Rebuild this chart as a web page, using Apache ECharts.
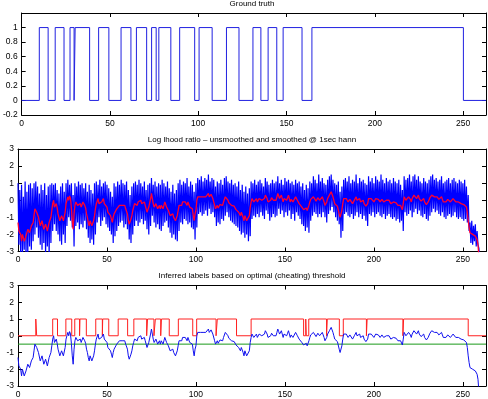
<!DOCTYPE html>
<html><head><meta charset="utf-8">
<script src="https://cdn.jsdelivr.net/npm/echarts@6/dist/echarts.min.js"></script>
<style>html,body{margin:0;padding:0;background:#fff}#c{width:488px;height:399px}</style>
</head><body><div id="c"></div>
<script>
const xMax = 263;
const xTicks = [0, 50, 100, 150, 200, 250];
const titles = ["Ground truth", "Log lhood ratio \u2013 unsmoothed and smoothed @ 1sec hann", "Inferred labels based on optimal (cheating) threshold"];
// ground truth high intervals (seconds)
const gtStart = [10.0,19.0,27.4,30.3,43.6,56.3,65.0,73.6,77.7,89.5,100.5,116.0,131.0,139.6,148.1,164.4];
const gtEnd   = [15.0,24.0,29.7,38.5,49.4,61.9,70.8,76.2,84.5,98.0,107.9,123.1,135.5,144.5,158.8,250.2];
// inferred label high intervals
const labStart = [10.0,19.5,26.9,31.9,34.8,43.7,47.6,56.3,65.1,72.8,77.2,80.6,90.1,100.4,112.0,131.0,161.7,163.4,173.8,182.8,196.2,216.7];
const labEnd   = [10.5,22.2,30.2,34.6,38.4,47.4,51.0,61.6,72.3,76.4,80.2,85.0,98.2,111.3,122.8,160.5,162.0,173.4,180.6,195.8,216.3,253.0];
const threshold = -0.5;
// smoothed log likelihood ratio at whole seconds
const smooth = [
-1.3,-1.9,-2.4,-2.0,-2.5,-2.1,-1.6,-1.9,-1.4,-0.9,
-0.4,-0.7,-1.1,-1.6,-1.3,-1.8,-1.5,-1.7,-1.2,-0.6,
0.0,-0.3,-0.45,-0.9,-1.3,-0.8,-1.1,-0.2,0.2,0.25,
-0.45,-1.7,-0.3,-0.1,-0.4,-0.2,-0.3,-0.1,-0.45,-1.0,
-1.5,-1.2,-1.6,-0.9,-0.2,0.1,-0.3,-0.1,0.1,-0.2,
-0.4,-0.6,-0.9,-1.3,-0.8,-0.7,-0.4,-0.3,-0.2,-0.35,
-0.3,-0.45,-1.2,-1.4,-0.9,-0.4,-0.1,-0.3,-0.2,0.0,
-0.2,-0.1,-0.4,-0.6,-0.3,0.4,-0.2,-0.4,-0.3,-0.45,
-0.5,-0.4,-0.3,-0.2,-0.45,-0.7,-1.0,-0.8,-1.1,-1.3,
-0.6,-0.2,-0.3,0.0,-0.1,-0.3,-0.2,-0.4,-0.5,-1.2,
-0.6,0.2,0.3,0.1,0.2,0.3,0.1,0.4,0.2,0.3,
0.0,-0.5,-0.3,-0.4,-0.2,-0.3,0.0,0.3,0.0,-0.2,
-0.3,-0.3,-0.45,-0.6,-0.7,-0.9,-0.8,-1.2,-1.0,-1.3,
-0.9,-0.1,0.0,-0.2,0.1,-0.1,0.2,0.0,-0.1,0.3,
0.1,-0.2,0.0,0.1,-0.1,0.0,0.4,0.1,0.3,-0.1,
0.2,0.0,0.3,-0.1,0.1,-0.2,0.2,0.0,-0.2,-0.3,
-0.45,-0.6,-0.45,-0.55,-0.1,0.0,0.2,0.1,0.0,0.1,
-0.1,0.2,-0.1,-0.4,0.1,0.3,0.5,0.2,-0.2,-0.3,
-0.4,-1.0,-0.6,0.1,0.2,0.0,-0.1,0.1,-0.2,0.0,
0.2,-0.1,0.1,-0.2,0.0,-0.3,-0.45,0.1,0.0,0.2,
-0.1,0.1,0.2,0.0,-0.1,0.1,-0.2,0.0,0.1,-0.1,
-0.2,-0.1,-0.2,-0.2,-0.3,-0.3,-0.55,0.2,0.0,0.1,
0.3,-0.1,0.2,0.4,0.1,0.3,0.0,-0.1,0.1,-0.2,
-0.3,0.0,0.2,0.4,0.2,0.3,0.1,0.0,0.2,-0.1,
-0.2,0.0,0.1,-0.1,0.0,0.2,-0.1,-0.2,-0.1,-0.2,
-0.3,-0.2,-0.4,-1.2,-1.9,-1.95,-1.95,-2.1,-2.3,-3.3];
// smoothed log likelihood ratio at half seconds (i + 0.5)
const smoothHalf = [
-1.8,-2.0,-2.0,-2.4,-2.1,-1.7,-1.9,-1.5,-1.3,-0.5,
-0.7,-1.0,-1.5,-1.2,-1.7,-1.4,-1.8,-1.3,-1.0,-0.2,
-0.4,-0.2,-0.8,-1.2,-0.9,-1.2,-0.7,0.0,0.0,0.1,
-1.2,-0.8,-0.1,-0.3,-0.3,-0.4,-0.1,-0.3,-0.8,-1.3,
-1.2,-1.5,-1.2,-0.5,-0.1,-0.2,-0.1,0.0,-0.2,-0.3,
-0.7,-0.7,-1.1,-1.0,-0.9,-0.5,-0.5,-0.2,-0.3,-0.2,
-0.5,-0.8,-1.4,-1.1,-0.6,-0.2,-0.2,-0.1,-0.1,-0.2,
-0.1,-0.3,-0.7,-0.4,0.1,0.1,-0.4,-0.2,-0.5,-0.3,
-0.3,-0.5,-0.1,-0.4,-0.6,-0.9,-0.8,-1.0,-1.2,-0.9,
-0.3,-0.35,-0.1,-0.2,-0.1,-0.1,-0.4,-0.3,-0.9,-0.8,
0.0,0.1,0.2,0.25,0.1,0.2,0.3,0.2,0.35,0.1,
-0.3,-0.4,-0.45,-0.25,-0.35,-0.1,0.2,0.1,-0.15,-0.2,
-0.4,-0.35,-0.55,-0.5,-0.8,-0.7,-1.0,-0.9,-1.2,-1.1,
-0.4,0.1,-0.1,0.0,-0.1,0.1,0.1,-0.1,0.1,0.2,
-0.1,-0.05,0.15,0.0,-0.05,0.2,0.25,0.2,0.1,0.1,
0.1,0.15,0.1,0.05,-0.1,0.0,0.1,-0.1,-0.25,-0.4,
-0.55,-0.5,-0.6,-0.3,0.05,0.1,0.15,-0.05,0.15,0.0,
0.1,0.05,-0.3,-0.1,0.2,0.4,0.35,0.0,-0.3,-0.35,
-0.8,-0.9,-0.2,0.2,0.1,-0.1,0.05,0.0,-0.1,0.1,
0.0,0.05,-0.1,-0.05,-0.2,-0.35,-0.2,0.05,0.1,0.05,
0.0,0.15,0.05,-0.1,0.05,-0.1,-0.05,0.05,0.0,-0.2,
-0.1,-0.2,-0.15,-0.3,-0.2,-0.4,-0.2,0.1,0.05,0.2,
0.05,0.1,0.3,0.25,0.2,0.1,-0.05,0.05,-0.1,-0.25,
-0.1,0.15,0.3,0.3,0.25,0.2,0.05,0.1,0.05,-0.15,
-0.1,0.05,0.0,-0.05,0.1,0.05,-0.15,-0.1,-0.15,-0.25,
-0.25,-0.3,-0.7,-1.6,-1.9,-2.0,-2.0,-2.15,-2.6];
// unsmoothed ratio: peak value in first half of each second
const rawHi = [
1.0,0.6,0.9,0.2,1.1,0.5,0.9,1.0,0.7,1.0,
1.1,0.8,0.4,0.9,0.6,1.0,0.3,0.8,0.9,1.0,
0.9,1.0,0.6,0.4,0.8,1.0,0.5,1.0,1.2,0.9,
1.0,0.3,1.0,0.8,1.1,0.9,1.0,0.7,1.0,0.5,
0.9,0.6,0.4,1.0,1.1,0.9,1.2,0.8,1.0,1.1,
0.9,0.7,0.5,0.2,1.0,0.8,1.1,0.9,1.2,1.0,
0.9,1.1,0.6,0.3,0.8,1.0,1.1,0.9,1.2,1.0,
0.8,1.1,0.6,0.9,1.0,1.3,0.9,1.1,0.8,1.0,
0.9,1.2,1.0,0.8,1.1,0.7,0.5,0.9,0.4,0.6,
1.0,1.2,0.9,1.1,1.0,1.3,0.8,1.1,0.9,0.5,
1.0,1.3,1.2,1.4,1.1,1.3,1.2,1.5,1.1,1.3,
1.2,0.8,1.1,1.0,1.2,0.9,1.3,1.4,1.1,1.0,
1.2,0.9,1.0,0.8,1.1,0.6,0.9,0.5,0.8,0.4,
0.7,1.1,1.0,1.2,0.9,1.1,1.2,1.0,0.8,1.3,
1.1,0.9,1.0,1.2,1.0,1.1,1.4,1.0,1.2,0.9,
1.3,1.1,1.2,1.0,1.1,0.9,1.2,1.0,1.1,0.8,
1.0,0.6,0.9,0.7,1.1,1.0,1.4,1.2,1.0,1.5,
1.1,1.3,1.0,0.9,1.2,1.4,1.5,1.2,1.0,0.9,
1.1,0.5,0.8,1.2,1.3,1.1,1.4,1.0,1.2,1.1,
1.5,1.0,1.3,1.1,1.2,1.0,0.9,1.4,1.1,1.3,
1.0,1.4,1.2,1.1,1.5,1.2,1.0,1.3,1.1,1.2,
1.0,1.3,1.1,1.0,1.2,0.9,0.6,1.4,1.2,1.3,
1.5,1.1,1.4,1.5,1.2,1.4,1.1,1.0,1.3,1.1,
1.0,1.2,1.4,1.5,1.2,1.3,1.1,1.2,1.4,1.0,
1.1,1.2,1.3,1.0,1.2,1.3,1.1,1.0,1.2,1.1,
1.0,1.2,0.8,0.3,-1.3,-1.2,-1.5,-1.4,-1.8,-2.8];
// unsmoothed ratio: trough value in second half of each second
const rawLo = [
-2.6,-3.2,-3.4,-2.9,-3.3,-3.1,-2.7,-2.9,-2.4,-2.0,
-1.6,-2.2,-2.6,-2.9,-2.5,-3.2,-2.7,-3.3,-2.5,-1.8,
-1.4,-1.8,-2.0,-2.4,-2.6,-2.0,-2.5,-1.5,-1.0,-1.2,
-1.6,-2.7,-1.5,-1.3,-1.7,-1.4,-1.6,-1.2,-1.7,-2.2,
-2.5,-2.3,-2.6,-2.0,-1.3,-1.0,-1.5,-1.2,-1.0,-1.4,
-1.6,-1.8,-2.0,-2.5,-2.1,-1.8,-1.5,-1.3,-1.2,-1.6,
-1.4,-1.7,-2.3,-2.5,-2.0,-1.5,-1.2,-1.5,-1.3,-1.1,
-1.4,-1.2,-1.7,-2.0,-1.5,-0.9,-1.3,-1.6,-1.4,-1.7,
-1.8,-1.5,-1.3,-1.2,-1.6,-1.9,-2.2,-2.0,-2.3,-2.4,
-1.8,-1.3,-1.4,-1.1,-1.2,-1.4,-1.3,-1.6,-1.7,-2.3,
-1.6,-0.8,-0.7,-0.9,-0.8,-0.6,-0.9,-0.5,-0.8,-0.7,
-1.0,-1.5,-1.3,-1.4,-1.1,-1.2,-0.9,-0.7,-1.0,-1.2,
-1.3,-1.4,-1.5,-1.6,-1.8,-2.0,-1.9,-2.2,-2.0,-2.4,
-2.1,-1.1,-0.9,-1.0,-0.8,-1.0,-0.7,-0.9,-1.1,-0.6,
-0.8,-1.2,-1.0,-0.8,-1.0,-0.9,-0.5,-0.8,-0.6,-1.0,
-0.7,-0.9,-0.6,-1.1,-0.8,-1.2,-0.7,-0.9,-1.1,-1.4,
-1.5,-1.8,-1.6,-1.9,-1.2,-0.9,-0.7,-0.8,-1.0,-0.8,
-1.0,-0.7,-1.0,-1.3,-0.8,-0.6,-0.4,-0.7,-1.0,-1.2,
-1.4,-2.2,-1.8,-0.8,-0.7,-0.9,-1.0,-0.8,-1.1,-0.9,
-0.7,-1.0,-0.8,-1.1,-0.9,-1.2,-1.5,-0.8,-0.9,-0.7,
-1.0,-0.8,-0.7,-0.9,-1.0,-0.8,-1.1,-0.9,-0.8,-1.0,
-1.1,-1.0,-1.2,-1.1,-1.3,-1.2,-1.8,-0.7,-0.9,-0.8,
-0.6,-1.0,-0.7,-0.5,-0.8,-0.6,-0.9,-1.0,-0.8,-1.1,
-1.2,-0.9,-0.7,-0.5,-0.7,-0.6,-0.8,-0.9,-0.7,-1.0,
-1.1,-0.9,-0.8,-1.0,-0.9,-0.7,-1.0,-1.1,-1.0,-1.1,
-1.2,-1.1,-1.3,-1.8,-2.5,-2.6,-2.4,-2.7,-2.6,-3.5];

function stepData(starts, ends) {
  const d = [[0, 0]];
  for (let i = 0; i < starts.length; i++) {
    d.push([starts[i], 0], [starts[i], 1], [ends[i], 1], [ends[i], 0]);
  }
  d.push([xMax, 0]);
  return d;
}
const gtData = stepData(gtStart, gtEnd);
const labData = stepData(labStart, labEnd);
const smoothData = [];
smooth.forEach((v, i) => {
  smoothData.push([i, v]);
  if (i < smoothHalf.length) smoothData.push([i + 0.5, smoothHalf[i]]);
});
const rawData = [];
rawHi.forEach((v, i) => { rawData.push([i, v]); rawData.push([i + 0.5, rawLo[i]]); });

const FONT = 'Liberation Sans, Arial, sans-serif';
const grids = [
  {left: 18, width: 468, top: 13, height: 102},
  {left: 18, width: 468, top: 149, height: 102.5},
  {left: 18, width: 468, top: 285.5, height: 102}
];
const xAxes = [], yAxes = [];
grids.forEach((g, gi) => {
  const lineS = {show: true, onZero: false, lineStyle: {color: '#000', width: 1}};
  const tickS = {show: true, inside: true, length: 4, lineStyle: {color: '#000', width: 1}};
  xAxes.push({type: 'value', gridIndex: gi, min: 0, max: xMax, interval: 50, position: 'bottom',
    axisLine: lineS, axisTick: tickS, splitLine: {show: false},
    axisLabel: {fontSize: 8.5, color: '#000', fontFamily: FONT, margin: 4, showMaxLabel: false,
      formatter: v => (xTicks.indexOf(v) >= 0 ? String(v) : '')}});
  xAxes.push({type: 'value', gridIndex: gi, min: 0, max: xMax, interval: 50, position: 'top',
    axisLine: lineS, axisTick: tickS, splitLine: {show: false}, axisLabel: {show: false}});
  const ymin = gi === 0 ? -0.2 : -3, ymax = gi === 0 ? 1.2 : 3, yint = gi === 0 ? 0.2 : 1;
  yAxes.push({type: 'value', gridIndex: gi, min: ymin, max: ymax, interval: yint, position: 'left',
    axisLine: lineS, axisTick: tickS, splitLine: {show: false},
    axisLabel: {fontSize: 8.5, color: '#000', fontFamily: FONT, margin: 4,
      formatter: v => (gi === 0 && v > 1.1) ? '' : String(Math.round(v * 10) / 10)}});
  yAxes.push({type: 'value', gridIndex: gi, min: ymin, max: ymax, interval: yint, position: 'right',
    axisLine: lineS, axisTick: tickS, splitLine: {show: false}, axisLabel: {show: false}});
});

const chart = echarts.init(document.getElementById('c'), null, {renderer: 'canvas'});
const ln = (xi, data, color, w, z) => ({type: 'line', xAxisIndex: xi, yAxisIndex: xi, data,
  showSymbol: false, symbol: 'none', clip: true, z: z || 2, animation: false,
  lineStyle: {color, width: w}, emphasis: {disabled: true}});
chart.setOption({
  animation: false,
  title: titles.map((t, i) => ({text: t, left: 252, top: [0, 136, 272][i], textAlign: 'center', padding: 0,
    textStyle: {fontSize: 8, fontWeight: 'normal', color: '#000', fontFamily: FONT}})),
  grid: grids,
  xAxis: xAxes,
  yAxis: yAxes,
  series: [
    ln(0, gtData, '#2020e0', 1),
    ln(2, rawData, '#0000ff', 1.2),
    ln(2, smoothData, '#ff0030', 1.3, 3),
    ln(4, labData, '#ff2020', 1),
    ln(4, [[0, threshold], [xMax, threshold]], '#1a9a1a', 1),
    ln(4, smoothData, '#1010ee', 1, 3)
  ]
});
</script></body></html>
